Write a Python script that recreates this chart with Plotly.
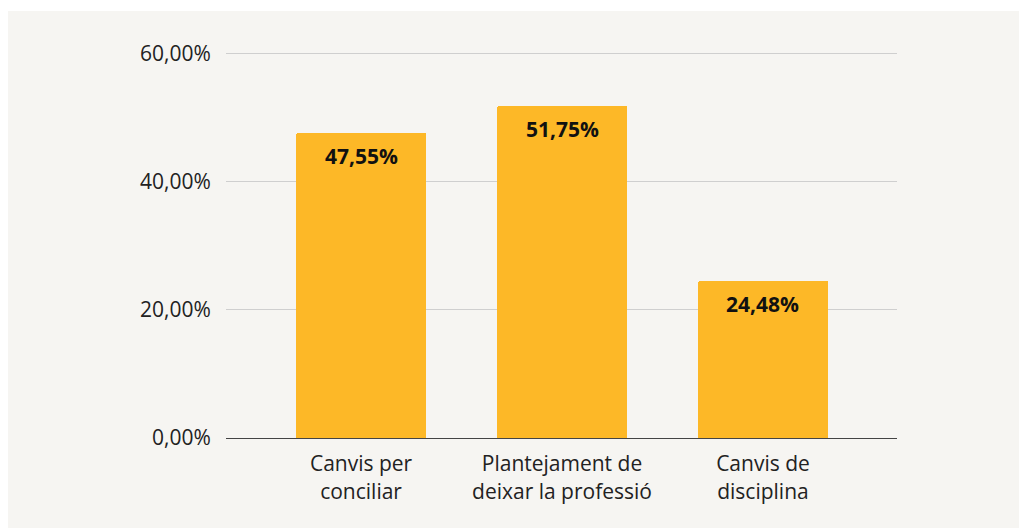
import plotly.graph_objects as go

categories = ["Canvis per<br>conciliar", "Plantejament de<br>deixar la professió", "Canvis de<br>disciplina"]
values = [47.55, 51.75, 24.48]
value_labels = ["47,55%", "51,75%", "24,48%"]
tick_vals = [0, 20, 40, 60]
tick_text = ["0,00%", "20,00%", "40,00%", "60,00%"]

FONT = "Open Sans"
W, H = 1027, 528
L, R, T, B = 218, 138, 39, 98
pw, ph = W - L - R, H - T - B

fig = go.Figure()
fig.add_trace(go.Bar(
    x=list(range(len(categories))), y=values,
    marker=dict(color="#fdb827", cornerradius=2, line=dict(width=0)),
    width=0.647, hoverinfo="skip",
))

for i, (v, lab) in enumerate(zip(values, value_labels)):
    fig.add_annotation(x=i, y=v, text="<b>" + lab + "</b>", showarrow=False,
                       yanchor="top", yshift=-7,
                       font=dict(family=FONT, size=21, color="#111111"))

# thin white band at the very top
fig.add_shape(type="rect", xref="paper", yref="paper",
              x0=-L / pw - 0.01, x1=(W - L) / pw + 0.01,
              y0=(ph + T - 3) / ph, y1=(ph + T + 5) / ph,
              fillcolor="white", line=dict(width=0), layer="below")

fig.update_layout(
    width=W, height=H,
    margin=dict(l=L, r=R, t=T, b=B, pad=0),
    paper_bgcolor="#f6f5f2", plot_bgcolor="rgba(0,0,0,0)",
    showlegend=False,
    font=dict(family=FONT, size=21, color="#222222"),
    bargap=0,
    xaxis=dict(range=[-0.672, 2.667], tickvals=list(range(len(categories))),
               ticktext=categories, showgrid=False, zeroline=False,
               showline=False, ticks="outside", ticklen=7, tickcolor="rgba(0,0,0,0)",
               tickfont=dict(family=FONT, size=21, color="#222222")),
    yaxis=dict(range=[0, 61], tickvals=tick_vals, ticktext=tick_text,
               showgrid=True, gridcolor="#cfcfcf", gridwidth=1,
               zeroline=True, zerolinecolor="#444444", zerolinewidth=1,
               showline=False, ticks="outside", ticklen=10, tickcolor="rgba(0,0,0,0)",
               tickfont=dict(family=FONT, size=21, color="#222222")),
)

fig.write_html("out.html")
